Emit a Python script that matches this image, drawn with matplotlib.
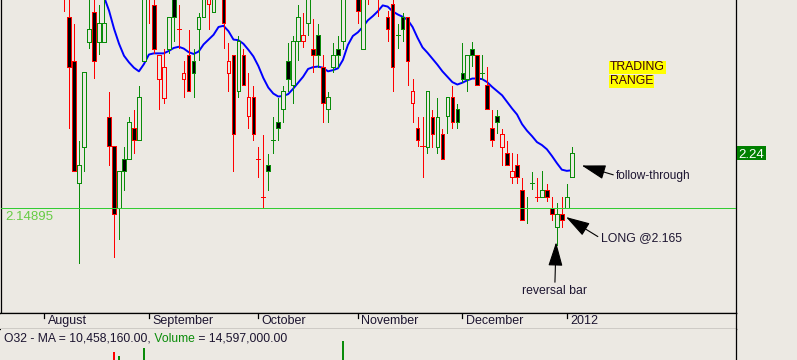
import matplotlib
matplotlib.use("Agg")
import matplotlib.pyplot as plt
from matplotlib.patches import Rectangle
from matplotlib.transforms import blended_transform_factory

plt.rcParams['font.family'] = ['Liberation Sans', 'DejaVu Sans']

# daily prices (index 0 = first bar on the left)
opens = [2.529, 2.467, 2.395, 2.190, 2.251, 2.426, 2.476, 2.426, 2.426, 2.301,
         2.252, 2.149, 2.230, 2.230, 2.282, 2.262, 2.395, 2.540, 2.488, 2.365,
         2.333, 2.415, 2.501, 2.447, 2.365, 2.405, 2.395, 2.447, 2.467, 2.489,
         2.476, 2.520, 2.510, 2.375, 2.405, 2.344, 2.405, 2.302, 2.334, 2.230,
         2.168, 2.220, 2.262, 2.292, 2.314, 2.395, 2.354, 2.427, 2.427, 2.457,
         2.415, 2.437, 2.385, 2.314, 2.385, 2.415, 2.427, 2.510, 2.530, 2.515,
         2.415, 2.540, 2.560, 2.540, 2.530, 2.467, 2.489, 2.438, 2.467, 2.467,
         2.324, 2.282, 2.252, 2.251, 2.301, 2.251, 2.272, 2.302, 2.334, 2.314,
         2.375, 2.365, 2.415, 2.405, 2.375, 2.354, 2.282, 2.302, 2.251, 2.240,
         2.200, 2.220, 2.179, 2.149, 2.190, 2.168, 2.168, 2.179, 2.149, 2.117,
         2.139, 2.149, 2.200]
highs = [2.538, 2.505, 2.456, 2.261, 2.376, 2.501, 2.504, 2.488, 2.504, 2.342,
         2.252, 2.210, 2.250, 2.301, 2.313, 2.352, 2.520, 2.548, 2.504, 2.405,
         2.414, 2.467, 2.509, 2.488, 2.394, 2.446, 2.414, 2.475, 2.515, 2.520,
         2.530, 2.560, 2.520, 2.425, 2.405, 2.436, 2.414, 2.374, 2.353, 2.251,
         2.271, 2.239, 2.301, 2.332, 2.353, 2.425, 2.436, 2.488, 2.475, 2.512,
         2.465, 2.456, 2.404, 2.342, 2.425, 2.436, 2.515, 2.550, 2.570, 2.530,
         2.525, 2.550, 2.570, 2.550, 2.540, 2.478, 2.499, 2.456, 2.475, 2.467,
         2.364, 2.301, 2.301, 2.344, 2.313, 2.333, 2.281, 2.334, 2.353, 2.323,
         2.425, 2.405, 2.426, 2.405, 2.404, 2.384, 2.313, 2.313, 2.281, 2.261,
         2.240, 2.239, 2.199, 2.168, 2.209, 2.199, 2.210, 2.189, 2.167, 2.157,
         2.167, 2.189, 2.250]
lows = [2.478, 2.283, 2.210, 2.057, 2.211, 2.416, 2.366, 2.406, 2.426, 2.221,
        2.068, 2.098, 2.179, 2.230, 2.241, 2.262, 2.395, 2.458, 2.407, 2.315,
        2.325, 2.407, 2.428, 2.416, 2.335, 2.344, 2.335, 2.396, 2.467, 2.448,
        2.476, 2.510, 2.416, 2.344, 2.211, 2.335, 2.354, 2.283, 2.262, 2.201,
        2.149, 2.179, 2.241, 2.262, 2.293, 2.344, 2.325, 2.396, 2.417, 2.438,
        2.376, 2.385, 2.293, 2.293, 2.376, 2.385, 2.415, 2.500, 2.520, 2.458,
        2.415, 2.490, 2.515, 2.469, 2.500, 2.428, 2.345, 2.416, 2.428, 2.354,
        2.293, 2.253, 2.201, 2.241, 2.251, 2.241, 2.230, 2.274, 2.283, 2.283,
        2.360, 2.345, 2.386, 2.354, 2.365, 2.314, 2.253, 2.274, 2.221, 2.220,
        2.191, 2.191, 2.129, 2.124, 2.180, 2.160, 2.168, 2.160, 2.129, 2.087,
        2.118, 2.149, 2.200]
closes = [2.504, 2.385, 2.210, 2.221, 2.376, 2.447, 2.395, 2.457, 2.457, 2.252,
          2.139, 2.210, 2.210, 2.292, 2.262, 2.334, 2.513, 2.510, 2.415, 2.405,
          2.385, 2.467, 2.467, 2.447, 2.375, 2.344, 2.375, 2.467, 2.504, 2.513,
          2.521, 2.550, 2.457, 2.395, 2.272, 2.428, 2.354, 2.334, 2.272, 2.230,
          2.168, 2.210, 2.262, 2.282, 2.344, 2.365, 2.427, 2.467, 2.437, 2.504,
          2.405, 2.405, 2.324, 2.334, 2.405, 2.405, 2.504, 2.540, 2.560, 2.478,
          2.513, 2.520, 2.530, 2.510, 2.505, 2.447, 2.385, 2.438, 2.447, 2.395,
          2.344, 2.262, 2.252, 2.344, 2.272, 2.301, 2.230, 2.334, 2.292, 2.292,
          2.365, 2.405, 2.405, 2.354, 2.375, 2.314, 2.262, 2.292, 2.272, 2.220,
          2.210, 2.200, 2.129, 2.149, 2.190, 2.168, 2.179, 2.168, 2.139, 2.139,
          2.129, 2.168, 2.240]
# g = up day, r = down day (as coloured on the chart)
day_colors = ("rrrgggrggr" "rgggrggrrr" "rggrrrgggr" "ggrrrgrrrr" "rgggggggrg"
              "rgrggggggr" "grrrrrrggr" "rrrgrgrgrg" "gggrgrrgrr" "rrrggrgrrg"
              "rgg")

# 21 day moving average, starts at bar 8
ma_start = 8
ma21 = [2.501, 2.478, 2.448, 2.423, 2.403, 2.392, 2.383, 2.377, 2.389, 2.405,
        2.407, 2.407, 2.407, 2.411, 2.416, 2.418, 2.415, 2.409, 2.406, 2.410,
        2.422, 2.430, 2.438, 2.451, 2.453, 2.444, 2.430, 2.429, 2.423, 2.413,
        2.402, 2.386, 2.366, 2.350, 2.340, 2.335, 2.336, 2.339, 2.348, 2.358,
        2.368, 2.381, 2.384, 2.385, 2.383, 2.377, 2.379, 2.382, 2.396, 2.421,
        2.436, 2.442, 2.451, 2.462, 2.469, 2.477, 2.487, 2.485, 2.477, 2.472,
        2.468, 2.463, 2.451, 2.433, 2.417, 2.408, 2.398, 2.388, 2.377, 2.368,
        2.359, 2.355, 2.358, 2.362, 2.365, 2.365, 2.364, 2.359, 2.351, 2.344,
        2.337, 2.326, 2.315, 2.305, 2.289, 2.278, 2.269, 2.259, 2.254, 2.247,
        2.236, 2.224, 2.213, 2.211, 2.212]

month_labels = ["August", "September", "October", "November", "December", "2012"]
month_first_idx = [-4, 17, 39, 59, 80, 101]

# only the tallest volume bars reach into the visible strip
vol_idx = [10, 11, 16, 56]
vol = [49.0e6, 44.5e6, 53.2e6, 61.5e6]
vol_ma = 10458160.00
vol_last = 14597000.00

support = 2.14895
entry = 2.165

# ---- style ----
BG = '#ece9e3'
RED = '#ff0000'
GREEN = '#0a8c0a'
TXT = '#1c1430'
PX = 0.72  # one pixel in points at 100 dpi

W, H = 797, 360
fig = plt.figure(figsize=(W / 100, H / 100), dpi=100, facecolor=BG)


def box(left, top, w, h):
    return [left / W, 1 - (top + h) / H, w / W, h / H]


ax = fig.add_axes(box(0.5, 0, 735.5, 313), facecolor=BG)
ax_x = fig.add_axes(box(0.5, 313, 735.5, 16), facecolor=BG)
ax_v = fig.add_axes(box(0.5, 329, 735.5, 31), facecolor=BG)

xlim = (-12.824, 135.01)
for a in (ax, ax_x, ax_v):
    a.set_xlim(*xlim)
    a.set_xticks([])
    a.set_yticks([])
    for s in a.spines.values():
        s.set_color('black')
        s.set_linewidth(0.9)
ax.set_ylim(1.9739, 2.496)
ax.spines['top'].set_visible(False)
ax_x.spines['left'].set_visible(False)
for s in ('left', 'top', 'bottom'):
    ax_v.spines[s].set_visible(False)

# candles (drawn crisp, like the original screen chart)
for i, (o, h, l, c) in enumerate(zip(opens, highs, lows, closes)):
    col = RED if day_colors[i] == 'r' else GREEN
    ax.vlines(i, l, h, color=col, lw=PX, zorder=3, antialiased=False)
    if o == c:
        ax.hlines(c, i - 0.42, i + 0.42, color=col, lw=PX, zorder=4,
                  antialiased=False)
    else:
        face = 'black' if c < o else BG
        ax.add_patch(Rectangle((i - 0.36, min(o, c)), 0.72, abs(c - o),
                               facecolor=face, edgecolor=col, lw=PX, zorder=4,
                               antialiased=False))

# moving average
ax.plot(range(ma_start, ma_start + len(ma21)), ma21, color='#0000ff', lw=1.4, zorder=2)

# support line
ax.axhline(support, color='#33cc33', lw=PX, zorder=5, antialiased=False)
ax.annotate(f"{support:.5f}", xy=(0, support), xycoords=('axes fraction', 'data'),
            xytext=(4.5, -2.5), textcoords='offset pixels', ha='left', va='top',
            color='#66cc44', fontsize=9.5)

# annotations
ax.text(109.7, 2.394, "TRADING", ha='left', va='top', fontsize=8.8, color='#3a0010',
        bbox=dict(boxstyle='square,pad=0.05', fc='#ffff00', ec='none'), zorder=6)
ax.text(109.7, 2.3705, "RANGE", ha='left', va='top', fontsize=8.8, color='#3a0010',
        bbox=dict(boxstyle='square,pad=0.05', fc='#ffff00', ec='none'), zorder=6)

arrow = dict(arrowstyle='-|>,head_length=1.5,head_width=0.45', mutation_scale=10,
             color='black', lw=0.8, shrinkA=0, shrinkB=0)
last = len(closes) - 1
ax.annotate("follow-through", xy=(last + 2, (opens[last] + closes[last]) / 2),
            xytext=(110.9, 2.203), ha='left', va='center', fontsize=8.6, color=TXT,
            arrowprops=dict(arrow, relpos=(0, 0.5)), zorder=6)
ax.annotate(f"LONG @{entry}", xy=(100.85, (opens[100] + closes[100]) / 2),
            xytext=(107.8, 2.0985), ha='left', va='center', fontsize=8.8, color=TXT,
            arrowprops=dict(arrow, relpos=(0, 0.5)), zorder=6)
ax.annotate("reversal bar", xy=(98.85, lows[99] + 0.005),
            xytext=(98.6, 2.0106), ha='center', va='center', fontsize=8.8, color=TXT,
            arrowprops=dict(arrow, relpos=(0.5, 1)), zorder=6)

# last price box on the right
tr = blended_transform_factory(ax.transAxes, ax.transData)
px = 0.001668
ax.add_patch(Rectangle((1.0014, closes[-1] - 7 * px), 0.0394, 14 * px, transform=tr,
                       facecolor='#008000', edgecolor='none', clip_on=False, zorder=7))
ax.text(1.0211, closes[-1], f"{closes[-1]:.2f}", transform=tr, ha='center',
        va='center_baseline', color='white', fontsize=9.5, clip_on=False, zorder=8)

# month axis
xt = ax_x.get_xaxis_transform()
for idx, lab in zip(month_first_idx, month_labels):
    ax_x.plot([idx, idx], [1, 0.69], transform=xt, color='black', lw=0.9)
    ax_x.text(idx + 0.7, 0.48, lab, transform=xt, ha='left', va='center',
              fontsize=9, color=TXT)

# volume strip
ax_v.set_ylim(40e6, 75e6)
ax_v.bar(vol_idx, vol, width=0.4,
         color=[RED if day_colors[i] == 'r' else GREEN for i in vol_idx])

r = fig.canvas.get_renderer()
x = 4.0
parts = [(f"O32 - MA = {vol_ma:,.2f},", TXT), (" Volume", GREEN),
         (f" = {vol_last:,.2f}", TXT)]
for s, col in parts:
    t = fig.text(x / W, (H - 341.7) / H, s, ha='left', va='baseline',
                 fontsize=8.7, color=col)
    x += t.get_window_extent(r).width

fig.savefig("out.png", dpi=100, facecolor=BG)
